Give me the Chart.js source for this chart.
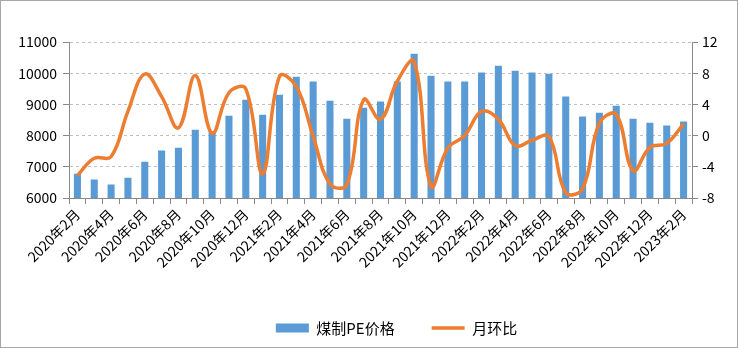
<!DOCTYPE html>
<html>

<head>
  <meta charset="utf-8">
  <title>煤制PE价格</title>
  <script src="https://cdn.jsdelivr.net/npm/chart.js@4.4.0/dist/chart.umd.min.js"></script>
  <style>
    html,
    body {
      margin: 0;
      padding: 0;
      background: #fff;
    }

    canvas {
      display: block;
    }
  </style>
</head>

<body>
  <canvas id="chart" width="738" height="348"></canvas>
  <script>
    // months 2020-02 .. 2023-02
    var months = [];
    for (var i = 0; i < 37; i++) {
      var m = i + 1; // month index starting at Feb 2020
      months.push((2020 + Math.floor(m / 12)) + '年' + (m % 12 + 1) + '月');
    }

    var pePrice = [
      6780, 6590, 6430, 6650, 7160, 7520, 7610, 8190, 8150, 8640, 9150, 8670, 9310,
      9890, 9730, 9120, 8540, 8890, 9090, 9730, 10620, 9920, 9730, 9730, 10020,
      10240, 10080, 10020, 9980, 9250, 8610, 8730, 8960, 8540, 8410, 8320, 8450
    ];

    var momChange = [
      -5.1, -2.9, -2.7, 3.1, 7.9, 5.0, 1.0, 7.7, 0.3, 5.5, 6.0, -4.9, 7.6,
      6.3, -0.1, -6.2, -6.3, 4.6, 2.1, 7.0, 9.5, -6.5, -1.6, 0.0, 3.1,
      2.1, -1.3, -0.6, -0.1, -7.3, -6.8, 1.6, 2.7, -4.5, -1.5, -1.0, 1.5
    ];

    var priceTicks = [6000, 7000, 8000, 9000, 10000, 11000];
    var changeTicks = [-8, -4, 0, 4, 8, 12];

    var axisGrey = '#898989';
    var font = { family: '"Noto Sans CJK SC", "Noto Sans", sans-serif', size: 14 };

    // white background plus thin outer frame
    var frame = {
      id: 'frame',
      beforeDraw: function(chart) {
        var c = chart.ctx;
        c.save();
        c.fillStyle = '#fff';
        c.fillRect(0, 0, chart.width, chart.height);
        c.restore();
      },
      afterDraw: function(chart) {
        var c = chart.ctx;
        c.save();
        c.strokeStyle = '#a6a6a6';
        c.lineWidth = 1;
        c.strokeRect(0.5, 0.5, chart.width - 1, chart.height - 1);
        c.restore();
      }
    };

    // nudge the legend row a little to the right
    var legendShift = {
      id: 'legendShift',
      afterLayout: function(chart) {
        chart.legend.left += 16;
        chart.legend.right += 16;
      }
    };

    var ctx = document.getElementById('chart').getContext('2d');
    window.chart = new Chart(ctx, {
      type: 'bar',
      data: {
        labels: months,
        datasets: [{
            type: 'bar',
            label: '煤制PE价格',
            data: pePrice,
            backgroundColor: '#5b9bd5',
            borderWidth: 0,
            yAxisID: 'y',
            categoryPercentage: 1,
            barPercentage: 0.42,
            order: 1,
            pointStyle: 'rect'
          },
          {
            type: 'line',
            label: '月环比',
            data: momChange,
            borderColor: '#ed7d31',
            backgroundColor: '#ed7d31',
            borderWidth: 3.5,
            pointRadius: 0,
            tension: 0.4,
            yAxisID: 'y1',
            order: 0,
            pointStyle: 'line'
          }
        ]
      },
      options: {
        responsive: false,
        animation: false,
        layout: {
          padding: { top: 42, bottom: 2.5, left: 0, right: 0 }
        },
        plugins: {
          tooltip: { enabled: false },
          legend: {
            position: 'bottom',
            fullSize: false,
            labels: {
              usePointStyle: true,
              pointStyleWidth: 33,
              boxHeight: 9,
              padding: 37,
              color: '#000',
              font: { family: font.family, size: 15 },
              sort: function(a, b) { return a.datasetIndex - b.datasetIndex; }
            }
          }
        },
        scales: {
          x: {
            offset: true,
            grid: {
              offset: true,
              drawOnChartArea: false,
              tickLength: 6,
              tickColor: axisGrey
            },
            border: { color: axisGrey },
            ticks: {
              autoSkip: false,
              maxRotation: 45,
              minRotation: 45,
              padding: 2,
              color: '#000',
              font: font,
              callback: function(v, i) { return i % 2 === 0 ? months[i] : ''; }
            },
            afterFit: function(s) { s.height = 85.5; }
          },
          y: {
            position: 'left',
            min: 6000,
            max: 11000,
            afterBuildTicks: function(s) {
              s.ticks = priceTicks.map(function(v) { return { value: v }; });
            },
            grid: {
              color: function(c) { return c.tick && c.tick.value === 6000 ? 'rgba(0,0,0,0)' : '#bfbfbf'; },
              tickLength: 6,
              tickColor: axisGrey
            },
            border: { color: axisGrey, dash: [3, 3] },
            ticks: {
              padding: 6,
              color: '#000',
              font: font,
              callback: function(v) { return String(v); }
            },
            afterFit: function(s) { s.width = 69; }
          },
          y1: {
            position: 'right',
            min: -8,
            max: 12,
            afterBuildTicks: function(s) {
              s.ticks = changeTicks.map(function(v) { return { value: v }; });
            },
            grid: {
              drawOnChartArea: false,
              tickLength: 6,
              tickColor: axisGrey
            },
            border: { color: axisGrey },
            ticks: {
              padding: 4,
              color: '#000',
              font: font
            },
            afterFit: function(s) { s.width = 46; }
          }
        }
      },
      plugins: [frame, legendShift]
    });
  </script>
</body>

</html>
